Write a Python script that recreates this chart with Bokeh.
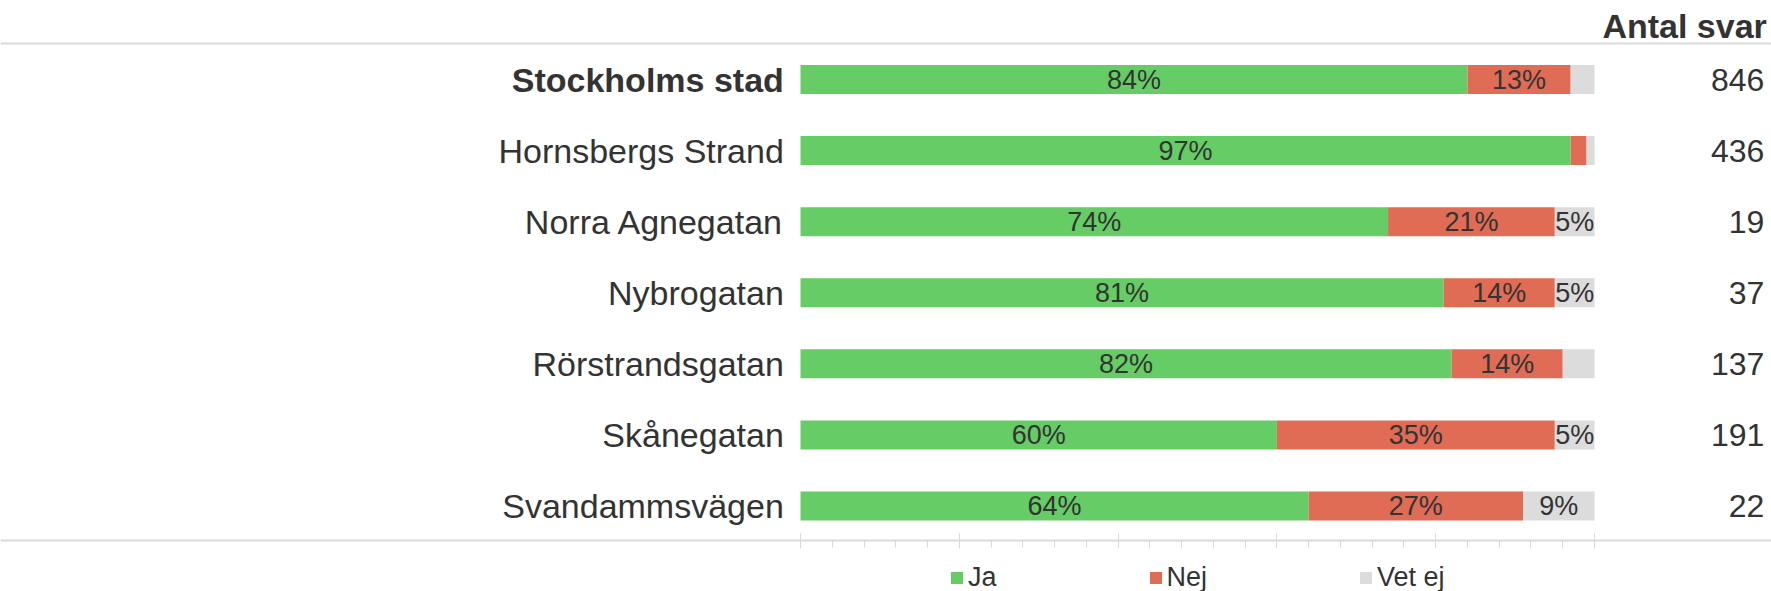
from bokeh.plotting import figure
from bokeh.models import (Range1d, Span, LinearAxis, FixedTicker, Legend, LegendItem,
                          ColumnDataSource)
from bokeh.core.properties import value
from bokeh.embed import file_html
from bokeh.resources import INLINE

# ---------------- data ----------------
categories = ["Stockholms stad", "Hornsbergs Strand", "Norra Agnegatan", "Nybrogatan",
              "Rörstrandsgatan", "Skånegatan", "Svandammsvägen"]
ja = [84, 97, 74, 81, 82, 60, 64]
nej = [13, 2, 21, 14, 14, 35, 27]
vet_ej = [3, 1, 5, 5, 4, 5, 9]
antal_svar = [846, 436, 19, 37, 137, 191, 22]
series_names = ["Ja", "Nej", "Vet ej"]
header = "Antal svar"
x_ticks = [0, 20, 40, 60, 80, 100]
x_minor_ticks = [4, 8, 12, 16, 24, 28, 32, 36, 44, 48, 52, 56, 64, 68, 72, 76, 84, 88, 92, 96]

# ---------------- style / layout ----------------
colors = ["#66CC66", "#E06C55", "#DCDCDC"]
text_color = "#333333"
line_color = "#DADADA"
FONT_NAME = "Liberation Sans"
FONT = value(FONT_NAME)
W, H = 1771, 591
PX_X = 7.94          # px per percent
X0 = 800             # px of 0%
PX_Y = 71.08         # px per row
Y0 = 79              # px of first row centre

p = figure(width=W, height=H,
           x_range=Range1d(-X0 / PX_X, (W - X0) / PX_X),
           y_range=Range1d((H - Y0) / PX_Y, -Y0 / PX_Y),
           x_axis_type=None, y_axis_type=None,
           output_backend="svg", toolbar_location=None, min_border=0)
p.outline_line_color = None
p.background_fill_color = "white"

rows = list(range(len(categories)))
segs = [ja, nej, vet_ej]
lefts, rights = [], []
acc = [0] * len(categories)
for s in segs:
    lefts.append(list(acc))
    acc = [a + v for a, v in zip(acc, s)]
    rights.append(list(acc))

renderers = []
for i, s in enumerate(segs):
    src = ColumnDataSource(dict(y=rows, left=lefts[i], right=rights[i]))
    r = p.hbar(y="y", left="left", right="right", height=0.408, source=src,
               fill_color=colors[i], line_color=None)
    renderers.append(r)

# percentage labels inside bars
lx, ly, lt = [], [], []
for i, s in enumerate(segs):
    for j, v in enumerate(s):
        if v >= 5:
            lx.append((lefts[i][j] + rights[i][j]) / 2)
            ly.append(rows[j])
            lt.append(f"{v}%")
p.text(x=lx, y=ly, text=lt, text_align="center", text_baseline="middle",
       text_font=FONT, text_font_size="27px", text_color=text_color)

# category labels
styles = ["bold"] + ["normal"] * (len(categories) - 1)
csrc = ColumnDataSource(dict(x=[-2.1] * len(categories), y=rows, t=categories, st=styles))
p.text(x="x", y="y", text="t", text_font_style="st", source=csrc, text_align="right",
       text_baseline="middle", text_font=FONT, text_font_size="34px", text_color=text_color)

# counts column
xr = 121.4
p.text(x=[xr] * len(categories), y=rows, text=[str(v) for v in antal_svar],
       text_align="right", text_baseline="middle", text_font=FONT,
       text_font_size="32px", text_color=text_color)
p.text(x=[xr + 0.3], y=[-0.75], text=[header], text_align="right", text_baseline="middle",
       text_font=FONT, text_font_size="34px", text_font_style="bold", text_color=text_color)

# top rule
p.add_layout(Span(location=-0.506, dimension="width", line_color=line_color, line_width=2))

# bottom axis
ax = LinearAxis(fixed_location=6.49,
                ticker=FixedTicker(ticks=x_ticks, minor_ticks=x_minor_ticks),
                major_label_overrides={t: "" for t in x_ticks},
                axis_line_color=line_color, axis_line_width=2,
                major_tick_line_color=line_color, major_tick_line_width=1,
                major_tick_in=7, major_tick_out=8,
                minor_tick_line_color=line_color, minor_tick_line_width=1,
                minor_tick_in=0, minor_tick_out=7)
p.add_layout(ax, "below")

legend = Legend(items=[LegendItem(label=n, renderers=[r]) for n, r in zip(series_names, renderers)],
                orientation="horizontal", location=(949, -2), spacing=151,
                padding=0, margin=0, label_standoff=4,
                glyph_width=15, glyph_height=15, label_width=0, label_height=0,
                label_text_font=FONT_NAME, label_text_font_size="27px", label_text_color=text_color,
                border_line_color=None, background_fill_alpha=0)
p.add_layout(legend)

open("out.html", "w").write(file_html(p, INLINE))
